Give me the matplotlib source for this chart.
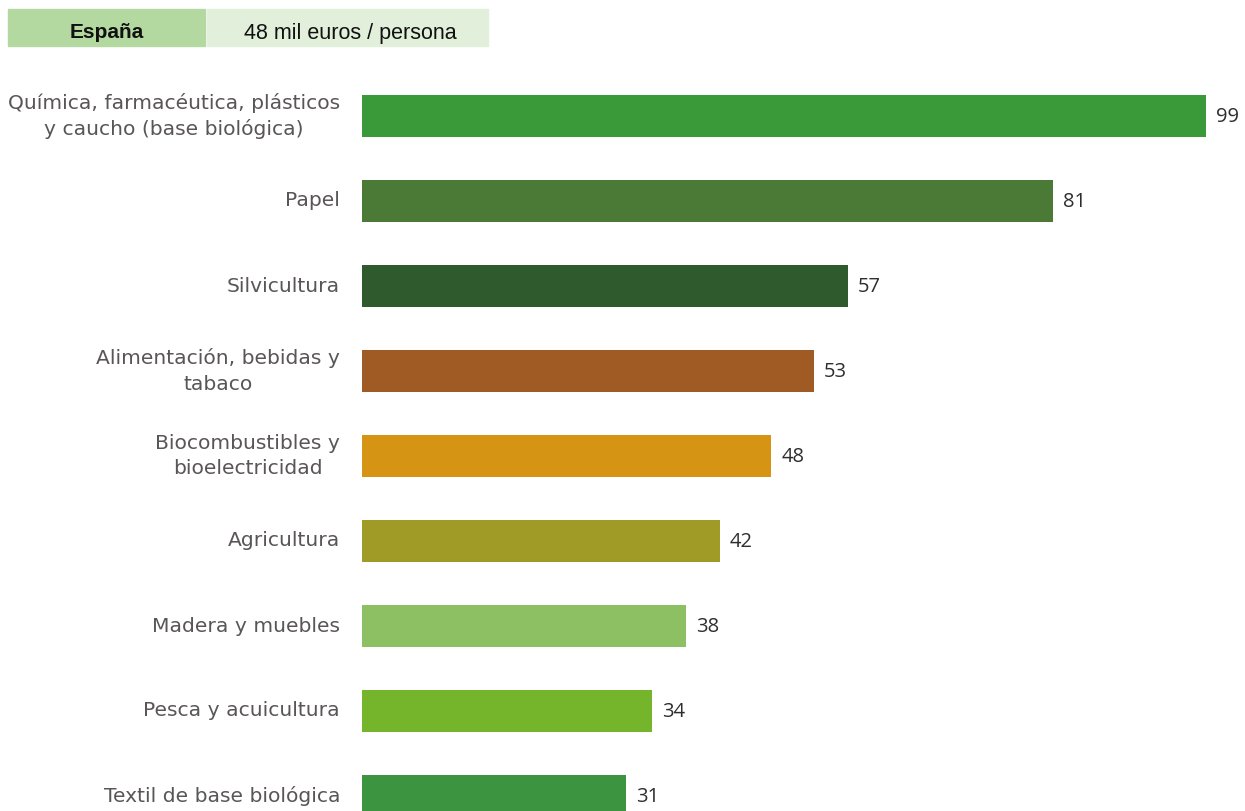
import matplotlib.pyplot as plt
from matplotlib.patches import Rectangle

# Data
sectores = [
    "Química, farmacéutica, plásticos\ny caucho (base biológica)",
    "Papel",
    "Silvicultura",
    "Alimentación, bebidas y\ntabaco",
    "Biocombustibles y\nbioelectricidad",
    "Agricultura",
    "Madera y muebles",
    "Pesca y acuicultura",
    "Textil de base biológica",
]
valores = [99, 81, 57, 53, 48, 42, 38, 34, 31]
colores = ["#3a9a3a", "#4a7a35", "#2f5a2e", "#a05a24", "#d69414",
           "#a09a26", "#8cc063", "#74b52c", "#3d9440"]
pais = "España"
media = "48 mil euros / persona"

W, H = 1245, 811
fig = plt.figure(figsize=(W / 100, H / 100), dpi=100)

# Axes: bars start at x=362 px, centres at 116 + 85*i px
ax = fig.add_axes([362 / W, 0, 1 - 362 / W, 1])
px_per_unit = (1206 - 362) / 99
ax.set_xlim(0, (W - 362) / px_per_unit)
ax.set_ylim((H - 116) / 85, -116 / 85)
ax.axis("off")

pos = list(range(len(valores)))
ax.barh(pos, valores, height=0.5, color=colores, zorder=2)

for i, (v, lab) in enumerate(zip(valores, sectores)):
    ax.annotate(str(v), xy=(v, i), xytext=(10, -1), textcoords="offset pixels",
                va="center", ha="left", fontsize=14.5, color="#2e2e2e",
                family="Open Sans", annotation_clip=False)
    ax.annotate(lab, xy=(0, i), xytext=(-22, 0), textcoords="offset pixels",
                ha="right", va="center", multialignment="center",
                fontsize=14.6, color="#5a5658", family="DejaVu Sans",
                linespacing=1.4, annotation_clip=False)

# Header boxes
fig.patches.append(Rectangle((8 / W, 1 - 46 / H), 197 / W, 37 / H,
                             transform=fig.transFigure, color="#b3d8a0"))
fig.patches.append(Rectangle((207 / W, 1 - 46 / H), 281 / W, 37 / H,
                             transform=fig.transFigure, color="#e2efda"))
fig.text(107 / W, 1 - 33 / H, pais, ha="center", va="center",
         fontsize=15, fontweight="bold", family="Liberation Sans", color="#111111")
fig.text(350 / W, 1 - 33 / H, media, ha="center", va="center",
         fontsize=15.5, family="Liberation Sans", color="#111111")

fig.savefig("out.png", dpi=100)
